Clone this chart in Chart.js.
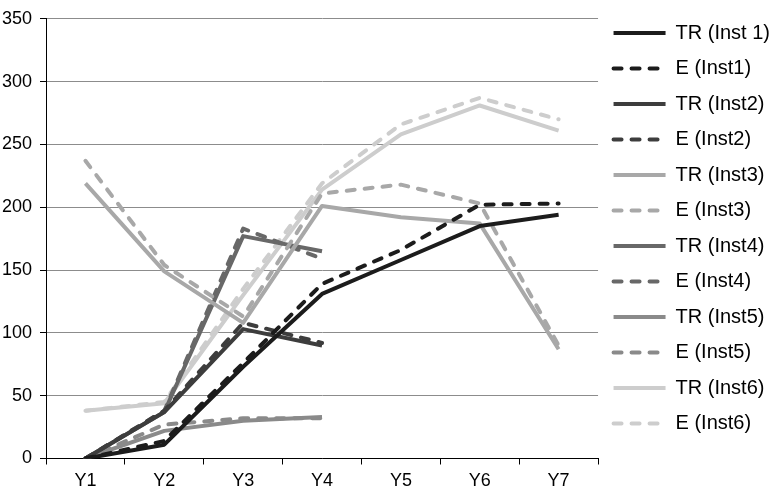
<!DOCTYPE html>
<html>
<head>
<meta charset="utf-8">
<script src="https://cdn.jsdelivr.net/npm/chart.js@4.4.0/dist/chart.umd.min.js"></script>
<style>
    body { margin: 0; background: #fff; }
    #chart { display: block; }
</style>
</head>
<body>
<canvas id="chart" width="780" height="494"></canvas>
<script>
const categories = ['Y1', 'Y2', 'Y3', 'Y4', 'Y5', 'Y6', 'Y7'];
const yTicks = [0, 50, 100, 150, 200, 250, 300, 350];

const trInst1 = [0, 11, 73, 131, 158, 185, 194];
const eInst1 = [0, 14, 76, 139, 166, 202, 203];
const trInst2 = [0, 37, 103, 90, null, null, null];
const eInst2 = [0, 38, 108, 92, null, null, null];
const trInst3 = [219, 149, 108, 201, 192, 187, 87];
const eInst3 = [237, 154, 113, 211, 218, 203, 90];
const trInst4 = [0, 37, 177, 165, null, null, null];
const eInst4 = [0, 38, 183, 159, null, null, null];
const trInst5 = [0, 22, 30, 33, null, null, null];
const eInst5 = [0, 27, 32, 32, null, null, null];
const trInst6 = [38, 44, 130, 214, 258, 281, 261];
const eInst6 = [38, 45, 135, 219, 266, 287, 270];

const fontFamily = '"Liberation Sans", Arial, sans-serif';

function serie(label, data, color, dashed) {
    return {
        label: label,
        data: data,
        borderColor: color,
        backgroundColor: color,
        borderWidth: 4,
        borderDash: dashed ? [8, 10] : [],
        borderCapStyle: dashed ? 'round' : 'butt',
        borderJoinStyle: 'round',
        pointRadius: 0,
        pointHoverRadius: 0,
        tension: 0,
        spanGaps: false
    };
}

const datasets = [
    serie('TR (Inst 1)', trInst1, '#1c1c1c', false),
    serie('E (Inst1)', eInst1, '#1c1c1c', true),
    serie('TR (Inst2)', trInst2, '#3d3d3d', false),
    serie('E (Inst2)', eInst2, '#3d3d3d', true),
    serie('TR (Inst3)', trInst3, '#a8a8a8', false),
    serie('E (Inst3)', eInst3, '#a8a8a8', true),
    serie('TR (Inst4)', trInst4, '#686868', false),
    serie('E (Inst4)', eInst4, '#686868', true),
    serie('TR (Inst5)', trInst5, '#8a8a8a', false),
    serie('E (Inst5)', eInst5, '#8a8a8a', true),
    serie('TR (Inst6)', trInst6, '#cdcdcd', false),
    serie('E (Inst6)', eInst6, '#cdcdcd', true)
];

// la leyenda con estilo "line" no copia el borderDash del dataset
function legendLabels(chart) {
    const items = Chart.defaults.plugins.legend.labels.generateLabels(chart);
    items.forEach(item => {
        const ds = chart.data.datasets[item.datasetIndex];
        item.lineDash = ds.borderDash;
        item.lineCap = ds.borderCapStyle;
        item.lineWidth = 4;
        item.strokeStyle = ds.borderColor;
    });
    return items;
}

const options = {
    responsive: false,
    animation: false,
    devicePixelRatio: 1,
    layout: {
        padding: { top: 1, right: 0, bottom: 0, left: 0 }
    },
    plugins: {
        tooltip: { enabled: false },
        legend: {
            position: 'right',
            align: 'start',
            title: {
                display: true,
                text: '',
                padding: 0,
                font: { size: 5, lineHeight: 1.3 }
            },
            labels: {
                usePointStyle: true,
                pointStyle: 'line',
                pointStyleWidth: 52,
                padding: 15.5,
                color: '#000',
                font: { family: fontFamily, size: 20 },
                generateLabels: legendLabels
            }
        }
    },
    scales: {
        x: {
            type: 'category',
            offset: true,
            border: { color: '#000', width: 1 },
            grid: {
                offset: true,
                drawOnChartArea: false,
                drawTicks: true,
                tickLength: 6,
                tickColor: '#000'
            },
            ticks: {
                color: '#000',
                padding: 6,
                font: { family: fontFamily, size: 18 }
            },
            afterFit: function (scale) {
                scale.height = 35.5;
            }
        },
        y: {
            min: 0,
            max: 350,
            border: { color: '#000', width: 1 },
            grid: {
                color: '#8c8c8c',
                lineWidth: 1,
                tickLength: 6,
                tickColor: '#000'
            },
            afterBuildTicks: function (scale) {
                scale.ticks = yTicks.map(v => ({ value: v }));
            },
            ticks: {
                color: '#000',
                padding: 8,
                font: { family: fontFamily, size: 18 }
            },
            afterFit: function (scale) {
                scale.width = 46;
            }
        }
    }
};

new Chart(document.getElementById('chart').getContext('2d'), {
    type: 'line',
    data: { labels: categories, datasets: datasets },
    options: options
});
</script>
</body>
</html>
